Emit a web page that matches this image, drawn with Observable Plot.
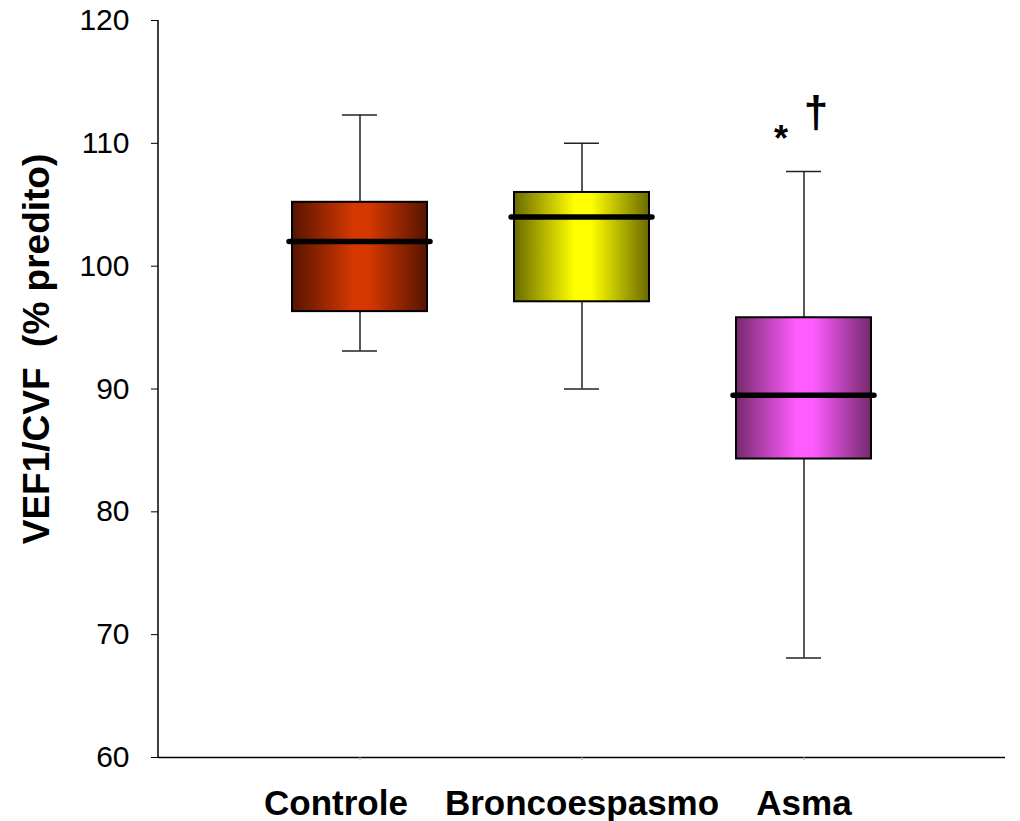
<!DOCTYPE html>
<html>
<head>
<meta charset="utf-8">
<script src="https://cdn.jsdelivr.net/npm/d3@7"></script>
<script src="https://cdn.jsdelivr.net/npm/@observablehq/plot@0.6"></script>
<style>
  html, body { margin: 0; padding: 0; background: #fff; }
  #chart { width: 1020px; height: 821px; }
</style>
</head>
<body>
<div id="chart"></div>
<script>
// ---- data ----
const categories = ["Controle", "Broncoespasmo", "Asma"];
const whiskerLow  = [93.1, 90.0, 68.1];
const q1          = [96.3, 97.1, 84.3];
const median      = [102.0, 104.0, 89.5];
const q3          = [105.2, 106.0, 95.8];
const whiskerHigh = [112.3, 110.0, 107.7];
const edgeColors   = ["#561400", "#6a6a00", "#752a6e"];
const centerColors = ["#d43800", "#ffff00", "#ff5cff"];
const yTicks = [60, 70, 80, 90, 100, 110, 120];
const yLabel = "VEF1/CVF  (% predito)";
const annotations = ["*", "\u2020"];   // shown above "Asma"
const annotatedCategory = "Asma";

const idx = categories.map((_, i) => i);
const font = "'Liberation Sans', Arial, Helvetica, sans-serif";

// gradient definitions
const defsMark = () => {
  const defs = d3.create("svg:defs");
  idx.forEach(i => {
    const g = defs.append("linearGradient")
      .attr("id", "grad" + i).attr("x1", "0%").attr("x2", "100%").attr("y1", "0%").attr("y2", "0%");
    g.append("stop").attr("offset", "0%").attr("stop-color", edgeColors[i]);
    g.append("stop").attr("offset", "45%").attr("stop-color", centerColors[i]);
    g.append("stop").attr("offset", "57%").attr("stop-color", centerColors[i]);
    g.append("stop").attr("offset", "100%").attr("stop-color", edgeColors[i]);
  });
  return defs.node();
};

// left axis line
const yAxisLine = (index, scales, values, dims) => {
  const l = d3.create("svg:line")
    .attr("x1", dims.marginLeft).attr("x2", dims.marginLeft)
    .attr("y1", dims.marginTop).attr("y2", dims.height - dims.marginBottom)
    .attr("stroke", "black").attr("stroke-width", 1.5);
  return l.node();
};

const catOf = i => categories[i];
const asmaTop = () => whiskerHigh[categories.indexOf(annotatedCategory)];

const marks = [
  defsMark,
  // whiskers
  Plot.ruleX(idx, {x: catOf, y1: i => whiskerLow[i], y2: i => q1[i], stroke: "#222", strokeWidth: 1.5}),
  Plot.ruleX(idx, {x: catOf, y1: i => q3[i], y2: i => whiskerHigh[i], stroke: "#222", strokeWidth: 1.5}),
  Plot.tickY(idx, {x: catOf, y: i => whiskerLow[i], insetLeft: 50, insetRight: 50, stroke: "#222", strokeWidth: 1.5}),
  Plot.tickY(idx, {x: catOf, y: i => whiskerHigh[i], insetLeft: 50, insetRight: 50, stroke: "#222", strokeWidth: 1.5}),
  // boxes
  ...idx.map(i => Plot.barY([i], {x: catOf, y1: j => q1[j], y2: j => q3[j], fill: `url(#grad${i})`, stroke: "black", strokeWidth: 2})),
  // medians
  Plot.tickY(idx, {x: catOf, y: i => median[i], insetLeft: -3, insetRight: -3, stroke: "black", strokeWidth: 5.5, strokeLinecap: "round"}),
  // axes
  Plot.ruleY([60], {stroke: "black", strokeWidth: 1.5}),
  yAxisLine,
  Plot.axisY({ticks: yTicks, tickSize: 7, tickPadding: 22, fontSize: 30, label: null, stroke: "black"}),
  Plot.axisX({ticks: categories, tickSize: 3, tickFormat: () => "", stroke: "#aaa", label: null}),
  // category labels
  Plot.text(["Controle"], {x: d => d, frameAnchor: "bottom", lineAnchor: "bottom", dy: 57, dx: -24, fontSize: 35, fontWeight: "bold", fill: "black"}),
  Plot.text(categories.filter(c => c !== "Controle"), {x: d => d, frameAnchor: "bottom", lineAnchor: "bottom", dy: 57, fontSize: 35, fontWeight: "bold", fill: "black"}),
  // y label
  Plot.text([yLabel], {text: d => d, frameAnchor: "left", textAnchor: "middle", dx: -121, dy: -40, rotate: -90, fontSize: 37, fontWeight: "bold", fill: "black", lineAnchor: "middle"}),
  // annotations
  Plot.text([annotations[0]], {x: () => annotatedCategory, y: asmaTop, text: d => d, dx: -23, dy: -21, lineAnchor: "bottom", fontSize: 36, fontWeight: "bold", fill: "black"}),
  Plot.text([annotations[1]], {x: () => annotatedCategory, y: asmaTop, text: d => d, dx: 12, dy: -45, lineAnchor: "bottom", fontSize: 44, fontWeight: "bold", fill: "black"})
];

const chart = Plot.plot({
  width: 1020,
  height: 821,
  marginLeft: 158,
  marginRight: 15,
  marginTop: 20,
  marginBottom: 64,
  style: {fontFamily: font, background: "white", color: "black"},
  x: {type: "band", domain: categories, paddingInner: 0.39, paddingOuter: 0.6, axis: null},
  y: {domain: [60, 120], axis: null},
  marks
});
document.getElementById("chart").appendChild(chart);
</script>
</body>
</html>
